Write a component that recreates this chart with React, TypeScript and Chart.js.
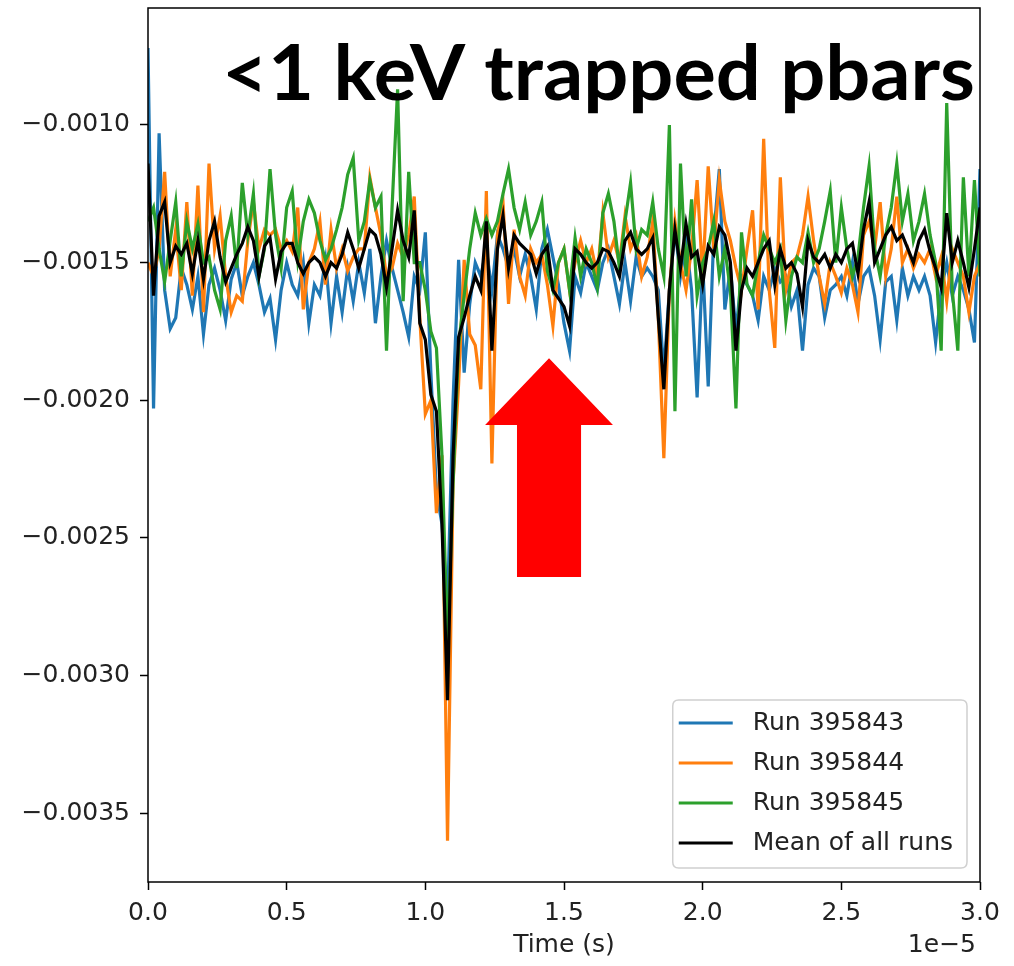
import React, { useEffect, useRef } from "react";
import { Chart, registerables } from "chart.js";

Chart.register(...registerables);

// Time axis is in units of 1e-5 s; sample spacing of the traces
const sampleStep = 0.02;

// Signal values in units of 1e-3
const run395843 = [
  -0.72, -2.03, -1.03, -1.60, -1.74, -1.70, -1.52, -1.58, -1.67, -1.55,
  -1.76, -1.58, -1.52, -1.60, -1.71, -1.56, -1.50, -1.62, -1.55, -1.50,
  -1.58, -1.68, -1.63, -1.78, -1.60, -1.50, -1.58, -1.62, -1.50, -1.72,
  -1.58, -1.62, -1.49, -1.72, -1.55, -1.68, -1.52, -1.64, -1.50, -1.61,
  -1.45, -1.72, -1.55, -1.42, -1.52, -1.60, -1.68, -1.77, -1.55, -1.60,
  -1.39, -1.90, -2.33, -2.45, -2.75, -2.00, -1.49, -1.90, -1.65, -1.50,
  -1.55, -1.45, -1.60, -1.40, -1.45, -1.52, -1.45, -1.55, -1.47, -1.55,
  -1.67, -1.45, -1.38, -1.48, -1.58, -1.72, -1.82, -1.55, -1.61, -1.50,
  -1.55, -1.60, -1.50, -1.45, -1.55, -1.65, -1.50, -1.64, -1.48, -1.55,
  -1.52, -1.55, -1.60, -1.90, -1.60, -1.38, -1.55, -1.42, -1.60, -1.99,
  -1.50, -1.95, -1.40, -1.16, -1.67, -1.52, -1.75, -1.55, -1.58, -1.62,
  -1.71, -1.55, -1.60, -1.52, -1.57, -1.55, -1.66, -1.60, -1.82, -1.58,
  -1.52, -1.55, -1.70, -1.60, -1.58, -1.55, -1.62, -1.50, -1.65, -1.55,
  -1.52, -1.62, -1.78, -1.57, -1.55, -1.71, -1.52, -1.62, -1.55, -1.60,
  -1.55, -1.62, -1.79, -1.60, -1.50, -1.62, -1.55, -1.60, -1.67, -1.79,
  -1.16,
];

const run395844 = [
  -1.50, -1.55, -1.45, -1.17, -1.55, -1.38, -1.60, -1.28, -1.62, -1.22,
  -1.68, -1.14, -1.45, -1.33, -1.55, -1.68, -1.62, -1.64, -1.42, -1.28,
  -1.45, -1.38, -1.40, -1.38, -1.45, -1.42, -1.46, -1.30, -1.67, -1.50,
  -1.45, -1.35, -1.58, -1.38, -1.52, -1.45, -1.53, -1.48, -1.45, -1.45,
  -1.19, -1.30, -1.40, -1.55, -1.52, -1.43, -1.48, -1.40, -1.26, -1.70,
  -2.05, -2.00, -2.41, -2.20, -3.60, -2.30, -1.94, -1.49, -1.76, -1.80,
  -1.96, -1.24, -2.23, -1.40, -1.28, -1.65, -1.38, -1.55, -1.62, -1.45,
  -1.50, -1.47, -1.58, -1.73, -1.50, -1.45, -1.60, -1.50, -1.42, -1.50,
  -1.45, -1.55, -1.32, -1.48, -1.42, -1.50, -1.33, -1.45, -1.40, -1.55,
  -1.48, -1.35, -1.70, -2.21, -1.60, -1.35, -1.50, -1.60, -1.45, -1.20,
  -1.55, -1.15, -1.45, -1.20, -1.35, -1.42, -1.52, -1.60, -1.45, -1.31,
  -1.67, -1.05, -1.60, -1.81, -1.19, -1.60, -1.50, -1.48, -1.40, -1.26,
  -1.42, -1.55, -1.65, -1.50, -1.55, -1.61, -1.52, -1.58, -1.68, -1.40,
  -1.35, -1.45, -1.28, -1.55, -1.45, -1.26, -1.50, -1.45, -1.52, -1.47,
  -1.50, -1.45, -1.55, -1.48, -1.64, -1.45, -1.50, -1.55, -1.68, -1.55,
  -1.50,
];

const run395845 = [
  -1.35, -1.30, -1.45, -1.57, -1.42, -1.28, -1.55, -1.35, -1.45, -1.36,
  -1.50, -1.48, -1.60, -1.67, -1.42, -1.33, -1.52, -1.21, -1.40, -1.25,
  -1.55, -1.45, -1.16, -1.40, -1.52, -1.30, -1.24, -1.49, -1.35, -1.27,
  -1.32, -1.42, -1.49, -1.45, -1.38, -1.30, -1.18, -1.12, -1.42, -1.35,
  -1.20, -1.30, -1.26, -1.82, -1.30, -0.87, -1.64, -1.17, -1.50, -1.50,
  -1.60, -1.75, -1.81, -2.20, -2.90, -2.30, -1.80, -1.62, -1.45, -1.32,
  -1.40, -1.34, -1.40, -1.35, -1.25, -1.16, -1.30, -1.38, -1.28, -1.40,
  -1.35, -1.28, -1.53, -1.60, -1.50, -1.45, -1.60, -1.41, -1.55, -1.45,
  -1.50, -1.59, -1.32, -1.25, -1.35, -1.52, -1.35, -1.21, -1.45, -1.38,
  -1.40, -1.28, -1.45, -1.55, -1.00, -2.04, -1.14, -1.55, -1.27, -1.62,
  -1.50, -1.45, -1.35, -1.55, -1.45, -1.60, -2.03, -1.39, -1.58, -1.62,
  -1.50, -1.40, -1.45, -1.50, -1.45, -1.71, -1.55, -1.48, -1.50, -1.39,
  -1.50, -1.45, -1.35, -1.24, -1.50, -1.30, -1.45, -1.55, -1.48, -1.30,
  -1.15, -1.45, -1.55, -1.40, -1.30, -1.14, -1.35, -1.25, -1.42, -1.35,
  -1.25, -1.40, -1.50, -1.82, -0.92, -1.60, -1.82, -1.19, -1.55, -1.20,
  -1.55,
];

const meanOfRuns = [
  -1.14, -1.62, -1.33, -1.28, -1.50, -1.44, -1.47, -1.43, -1.54, -1.42,
  -1.56, -1.42, -1.35, -1.48, -1.57, -1.52, -1.47, -1.43, -1.37, -1.42,
  -1.55, -1.44, -1.41, -1.56, -1.46, -1.43, -1.43, -1.50, -1.54, -1.50,
  -1.48, -1.50, -1.55, -1.50, -1.52, -1.47, -1.39, -1.45, -1.52, -1.45,
  -1.38, -1.40, -1.47, -1.59, -1.45, -1.31, -1.42, -1.48, -1.31, -1.72,
  -1.78, -1.98, -2.04, -2.45, -3.09, -2.20, -1.77, -1.70, -1.62, -1.55,
  -1.60, -1.35, -1.82, -1.45, -1.33, -1.52, -1.40, -1.43, -1.45, -1.47,
  -1.54, -1.47, -1.44, -1.60, -1.63, -1.66, -1.73, -1.45, -1.47, -1.50,
  -1.52, -1.50, -1.45, -1.46, -1.50, -1.55, -1.42, -1.39, -1.45, -1.47,
  -1.45, -1.41, -1.70, -1.96, -1.60, -1.38, -1.52, -1.36, -1.48, -1.46,
  -1.58, -1.44, -1.47, -1.37, -1.40, -1.50, -1.82, -1.60, -1.52, -1.55,
  -1.50, -1.45, -1.42, -1.58, -1.45, -1.52, -1.50, -1.54, -1.66, -1.42,
  -1.48, -1.50, -1.47, -1.52, -1.47, -1.50, -1.45, -1.43, -1.54, -1.38,
  -1.28, -1.50, -1.45, -1.40, -1.37, -1.42, -1.40, -1.45, -1.50, -1.42,
  -1.38, -1.46, -1.52, -1.59, -1.32, -1.50, -1.42, -1.50, -1.59, -1.45,
  -1.30,
];

const seriesLabels = ["Run 395843", "Run 395844", "Run 395845", "Mean of all runs"];
const seriesColors = ["#1f77b4", "#ff7f0e", "#2ca02c", "#000000"];

const xTicks = [0, 0.5, 1.0, 1.5, 2.0, 2.5, 3.0];
const yTicks = [-0.001, -0.0015, -0.002, -0.0025, -0.003, -0.0035];
const xRange = [0, 3.0];
const yRange = [-0.00375, -0.000575];

const titleText = "<1 keV trapped pbars";
const xAxisTitle = "Time (s)";
const xOffsetText = "1e\u22125";

// Red arrow annotation, in data units
const arrowShape = {
  tipX: 1.446,
  tipY: -0.001847,
  headY: -0.00209,
  headHalfWidth: 0.2305,
  shaftHalfWidth: 0.1155,
  tailY: -0.002642,
};

const tickFont = { family: "'DejaVu Sans', sans-serif", size: 25 };
const textColor = "#222222";

function toPoints(values: number[]) {
  return values.map((v, i) => ({ x: i * sampleStep, y: v * 1e-3 }));
}

const decorations = {
  id: "decorations",
  afterDraw(chart: any) {
    const { ctx, chartArea: ca, scales } = chart;
    const xs = scales.x;
    const ys = scales.y;

    // Red arrow
    ctx.save();
    ctx.fillStyle = "#ff0000";
    ctx.beginPath();
    const a = arrowShape;
    ctx.moveTo(xs.getPixelForValue(a.tipX), ys.getPixelForValue(a.tipY));
    ctx.lineTo(xs.getPixelForValue(a.tipX + a.headHalfWidth), ys.getPixelForValue(a.headY));
    ctx.lineTo(xs.getPixelForValue(a.tipX + a.shaftHalfWidth), ys.getPixelForValue(a.headY));
    ctx.lineTo(xs.getPixelForValue(a.tipX + a.shaftHalfWidth), ys.getPixelForValue(a.tailY));
    ctx.lineTo(xs.getPixelForValue(a.tipX - a.shaftHalfWidth), ys.getPixelForValue(a.tailY));
    ctx.lineTo(xs.getPixelForValue(a.tipX - a.shaftHalfWidth), ys.getPixelForValue(a.headY));
    ctx.lineTo(xs.getPixelForValue(a.tipX - a.headHalfWidth), ys.getPixelForValue(a.headY));
    ctx.closePath();
    ctx.fill();
    ctx.restore();

    // Frame
    ctx.save();
    ctx.strokeStyle = "#000";
    ctx.lineWidth = 1.5;
    ctx.strokeRect(ca.left, ca.top, ca.right - ca.left, ca.bottom - ca.top);
    ctx.restore();

    // Title text
    ctx.save();
    ctx.font = "bold 76px Lato, 'Open Sans', sans-serif";
    const w = ctx.measureText(titleText).width;
    const targetW = 753;
    ctx.translate(ca.right - 5, 100);
    ctx.scale(targetW / w, 1);
    ctx.textAlign = "right";
    ctx.textBaseline = "alphabetic";
    ctx.fillStyle = "#000";
    ctx.fillText(titleText, 0, 0);
    ctx.restore();

    // Offset text
    ctx.save();
    ctx.font = "25px 'DejaVu Sans', sans-serif";
    ctx.fillStyle = textColor;
    ctx.textAlign = "right";
    ctx.textBaseline = "middle";
    ctx.fillText(xOffsetText, ca.right - 4, ca.bottom + 63);
    ctx.restore();

    // Legend
    ctx.save();
    ctx.font = "25px 'DejaVu Sans', sans-serif";
    let maxW = 0;
    seriesLabels.forEach((l) => (maxW = Math.max(maxW, ctx.measureText(l).width)));
    const boxW = 80 + maxW + 14;
    const rowH = 40;
    const boxH = 8 + rowH * seriesLabels.length;
    const bx = ca.right - 13 - boxW;
    const by = ca.bottom - 14 - boxH;
    const r = 6;
    ctx.beginPath();
    ctx.moveTo(bx + r, by);
    ctx.lineTo(bx + boxW - r, by);
    ctx.quadraticCurveTo(bx + boxW, by, bx + boxW, by + r);
    ctx.lineTo(bx + boxW, by + boxH - r);
    ctx.quadraticCurveTo(bx + boxW, by + boxH, bx + boxW - r, by + boxH);
    ctx.lineTo(bx + r, by + boxH);
    ctx.quadraticCurveTo(bx, by + boxH, bx, by + boxH - r);
    ctx.lineTo(bx, by + r);
    ctx.quadraticCurveTo(bx, by, bx + r, by);
    ctx.closePath();
    ctx.fillStyle = "rgba(255,255,255,0.85)";
    ctx.fill();
    ctx.strokeStyle = "#d0d0d0";
    ctx.lineWidth = 1.5;
    ctx.stroke();
    seriesLabels.forEach((label, k) => {
      const cy = by + 23 + k * rowH;
      ctx.strokeStyle = seriesColors[k];
      ctx.lineWidth = 3;
      ctx.beginPath();
      ctx.moveTo(bx + 6, cy);
      ctx.lineTo(bx + 60, cy);
      ctx.stroke();
      ctx.fillStyle = textColor;
      ctx.textAlign = "left";
      ctx.textBaseline = "middle";
      ctx.fillText(label, bx + 80, cy);
    });
    ctx.restore();
  },
};

export default function App() {
  const canvasRef = useRef<HTMLCanvasElement | null>(null);

  useEffect(() => {
    const canvas = canvasRef.current;
    if (!canvas) return;
    const allSeries = [run395843, run395844, run395845, meanOfRuns];
    const chart = new Chart(canvas, {
      type: "line",
      data: {
        datasets: allSeries.map((vals, k) => ({
          label: seriesLabels[k],
          data: toPoints(vals),
          borderColor: seriesColors[k],
          backgroundColor: seriesColors[k],
          borderWidth: 3.2,
          pointRadius: 0,
          tension: 0,
          fill: false,
          order: 4 - k,
        })),
      },
      options: {
        responsive: false,
        animation: false,
        events: [],
        layout: { padding: { top: 8, right: 34, left: 0, bottom: 0 } },
        plugins: {
          legend: { display: false },
          tooltip: { enabled: false },
          title: { display: false },
        },
        scales: {
          x: {
            type: "linear",
            min: xRange[0],
            max: xRange[1],
            afterBuildTicks: (s: any) => {
              s.ticks = xTicks.map((value) => ({ value }));
            },
            afterFit: (s: any) => {
              s.height = 84;
              s.paddingLeft = 0;
              s.paddingRight = 0;
            },
            ticks: {
              callback: (v: any) => Number(v).toFixed(1),
              font: tickFont,
              color: textColor,
              padding: 8,
              maxRotation: 0,
              autoSkip: false,
            },
            grid: {
              display: true,
              drawOnChartArea: false,
              drawTicks: true,
              tickLength: 8,
              tickColor: "#000",
              tickWidth: 1.5,
            },
            border: { display: false },
            title: {
              display: true,
              text: xAxisTitle,
              font: tickFont,
              color: textColor,
              padding: { top: 0, bottom: 6 },
            },
          },
          y: {
            type: "linear",
            min: yRange[0],
            max: yRange[1],
            afterBuildTicks: (s: any) => {
              s.ticks = yTicks.map((value) => ({ value }));
            },
            afterFit: (s: any) => {
              s.width = 148;
              s.paddingTop = 0;
              s.paddingBottom = 0;
            },
            ticks: {
              callback: (v: any) => (Number(v) < 0 ? "\u2212" : "") + Math.abs(Number(v)).toFixed(4),
              font: tickFont,
              color: textColor,
              padding: 10,
              autoSkip: false,
            },
            grid: {
              display: true,
              drawOnChartArea: false,
              drawTicks: true,
              tickLength: 8,
              tickColor: "#000",
              tickWidth: 1.5,
            },
            border: { display: false },
          },
        },
      },
      plugins: [decorations],
    });
    return () => chart.destroy();
  }, []);

  return (
    <div style={{ position: "fixed", left: 0, top: 0, width: 1014, height: 966, background: "#fff" }}>
      <canvas ref={canvasRef} width={1014} height={966} style={{ display: "block", width: 1014, height: 966 }} />
    </div>
  );
}
